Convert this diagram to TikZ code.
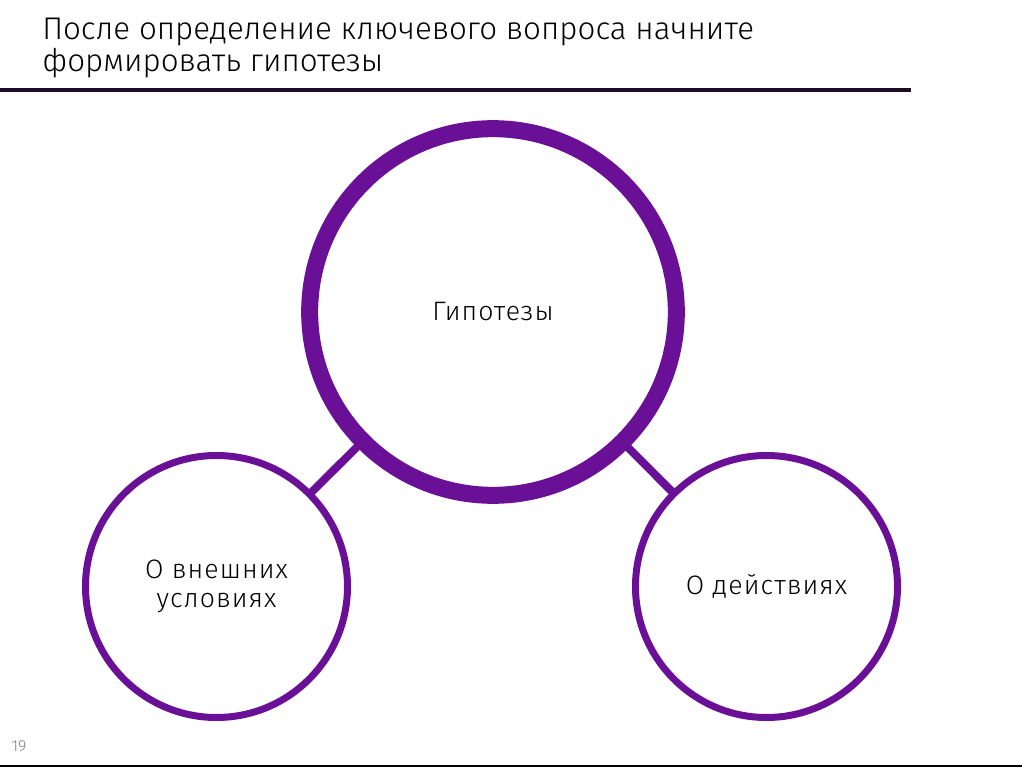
\documentclass[tikz,border=0pt]{standalone}
\usepackage{fontspec}
\setmainfont{Fira Sans Light}
\newfontfamily\bubblefont[LetterSpace=4]{Fira Sans Light}
\definecolor{hypviolet}{RGB}{106,16,150}
\definecolor{rulecol}{RGB}{32,10,37}
\begin{document}
\begin{tikzpicture}[x=0.75pt, y=-0.75pt,
  bubble/.style={circle, draw=hypviolet, fill=white, inner sep=0pt, align=center,
    font=\bubblefont\fontsize{20}{22}\selectfont},
  link/.style={draw=hypviolet, line width=6pt}]
\useasboundingbox (0,0) rectangle (1022,767);
\coordinate (top) at (493,312);
\coordinate (ext) at (216.5,586.5);
\coordinate (act) at (766.5,586.5);
\coordinate (rule l) at (0,90);
\coordinate (rule r) at (911,90);
\coordinate (foot l) at (0,766);
\coordinate (foot r) at (1022,766);
% title and rules
\node [anchor=north west, inner sep=0pt, align=left, font=\fontsize{23.5}{24}\selectfont] (title) at (42,18)
  {После определение ключевого вопроса начните\\формировать гипотезы};
\draw [rulecol, line width=3pt] (rule l) -- (rule r);
\draw [black, line width=1.2pt] (foot l) -- (foot r);
\node [gray, font=\fontsize{12}{14}\selectfont] (page) at (19,746) {19};
% connectors
\draw [link] (ext) -- (top);
\draw [link] (act) -- (top);
% circles
\node [bubble, line width=12.75pt, minimum size=275pt] (hyp) at (top) {Гипотезы};
\node [bubble, line width=5.25pt, minimum size=196.5pt] (outer) at (ext) {О внешних\\условиях};
\node [bubble, line width=5.25pt, minimum size=196.5pt] (deeds) at (act) {О действиях};
\end{tikzpicture}
\end{document}
